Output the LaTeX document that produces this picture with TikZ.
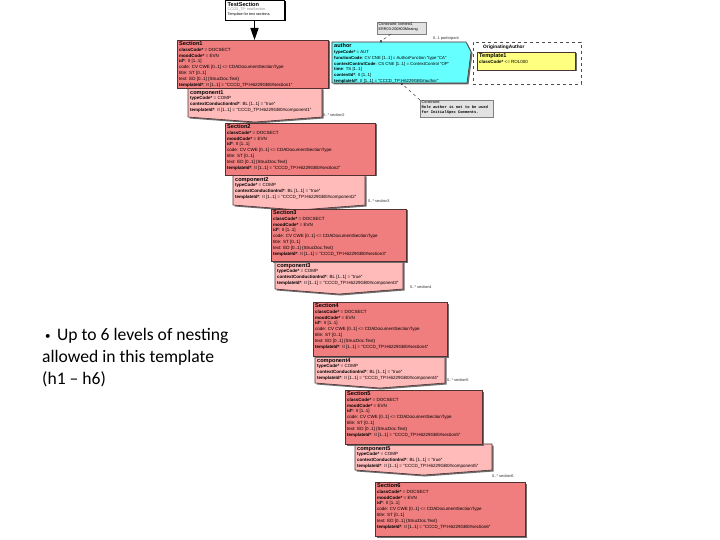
\documentclass[tikz,border=0pt]{standalone}
\usepackage{fontspec}
\setmainfont{Liberation Sans}
\newfontfamily\calib{Carlito}
\newfontfamily\monof{Liberation Mono}
\usetikzlibrary{arrows.meta,calc}
\definecolor{secred}{RGB}{240,126,126}
\definecolor{comppink}{RGB}{255,186,186}
\definecolor{authcyan}{RGB}{102,255,255}
\definecolor{tmplyellow}{RGB}{255,255,128}
\definecolor{consgray}{RGB}{226,226,226}
\definecolor{edgec}{RGB}{80,50,50}
\definecolor{shadowc}{RGB}{110,110,110}
\tikzset{
  boxbase/.style={anchor=north west, inner sep=0pt, outer sep=0pt},
  body/.style={anchor=north west, align=left, inner sep=0pt, font=\fontsize{4.5}{5.8}\selectfont},
  lbl/.style={anchor=west, inner sep=0pt, font=\fontsize{3.9}{4.5}\selectfont, text=black!80},
  boxline/.style={draw=edgec, line width=0.6pt},
  consline/.style={dashed, draw=black!75, line width=0.5pt, -{Circle[length=2.4pt]}}
}
\newcommand{\secttext}[1]{{\fontsize{5.6}{6}\selectfont\textbf{Section#1}}\\
\textbf{classCode*} = DOCSECT\\
\textbf{moodCode*} = EVN\\
\textbf{id*}: II [1..1]\\
code: CV CWE [0..1] <= CDADocumentSectionType\\
title: ST [0..1]\\
text: ED [0..1] \{StrucDoc.Text\}\\
\textbf{templateId*}: II [1..1] = "CCCD\_TP:H6229GB0\#section#1"}
\newcommand{\comptext}[1]{{\fontsize{5.6}{6}\selectfont\textbf{component#1}}\\
\textbf{typeCode*} = COMP\\
\textbf{contextConductionInd*}: BL [1..1] = "true"\\
\textbf{templateId*}: II [1..1] = "CCCD\_TP:H6229GB0\#component#1"}
% name, x, y, w, h, number
\newcommand{\mksection}[6]{%
  \fill[shadowc] (#2+1.5,#3+1.5) rectangle ++(#4,#5);
  \node[boxbase, fill=secred, boxline, minimum width=#4pt, minimum height=#5pt] (#1) at (#2,#3) {};
  \node[body] (#1t) at (#2+2,#3+1.3) {\secttext{#6}};
}
\newcommand{\mkcomp}[6]{%
  \node[boxbase, minimum width=#4pt, minimum height=#5pt] (#1) at (#2,#3) {};
  \fill[shadowc] ($(#1.north west)+(1.5,1.5)$) -- ($(#1.north east)+(1.5,1.5)$) -- ($(#1.south east)+(1.5,1.5)$) -- ($(#1.south)+(1.5,6.5)$) -- ($(#1.south west)+(1.5,1.5)$) -- cycle;
  \filldraw[fill=comppink, boxline] (#1.north west) -- (#1.north east) -- (#1.south east) -- ($(#1.south)+(0,5)$) -- (#1.south west) -- cycle;
  \node[body] (#1t) at (#2+2,#3+2) {\comptext{#6}};
}
\begin{document}
\begin{tikzpicture}[x=1pt,y=-1pt]
\useasboundingbox (0,0) rectangle (720,540);
\fill[white] (0,0) rectangle (720,540);

% TestSection
\fill[black] (226.5,1.5) rectangle (285.5,21.5);
\node[boxbase, fill=white, draw=black, line width=0.9pt, minimum width=59pt, minimum height=20pt] (ts) at (225,0.5) {};
\node[body, font=\fontsize{3.7}{4.6}\selectfont] (tst) at (227.5,2) {{\fontsize{5.6}{6}\selectfont\textbf{TestSection}}\\{\color{black!45}CCCD\_TP: testSection}\\Template for test sections};

% components (drawn before sections)
\mkcomp{c1}{188}{88}{134}{29}{1}
\mkcomp{c2}{233}{175}{132}{30}{2}
\mkcomp{c3}{275}{261}{128}{28}{3}
\mkcomp{c4}{315}{356}{130}{27}{4}
\mkcomp{c5}{355}{444}{137}{26}{5}

% sections
\mksection{s1}{177}{40}{151}{48}{1}
\mksection{s2}{225}{123}{150}{52}{2}
\mksection{s3}{271}{209}{135}{52}{3}
\mksection{s4}{313}{302}{134}{54}{4}
\mksection{s5}{345}{390}{137}{54}{5}
\mksection{s6}{375}{482}{150}{54}{6}

% arrow TestSection -> Section1
\draw[line width=1.6pt, -{Triangle[width=8pt,length=12pt]}] (ts.south) -- (ts.south |- s1.north);

% association labels
\node[lbl] (l2) at (323,115) {0..* section2};
\node[lbl] (l3) at (368,201) {0..* section3};
\node[lbl] (l4) at (410,287) {0..* section4};
\node[lbl] (l5) at (447,380) {0..* section5};
\node[lbl] (l6) at (492,476) {0..* section6};

% author
\node[boxbase, minimum width=134pt, minimum height=41pt] (au) at (332,42) {};
\fill[shadowc] ($(au.north west)+(1.5,1.5)$) -- ($(au.north east)+(1.5,1.5)$) -- ($(au.north east)+(6.5,11.5)$) -- ($(au.south east)+(2.5,1.5)$) -- ($(au.south west)+(1.5,1.5)$) -- cycle;
\filldraw[fill=authcyan, boxline] (au.north west) -- (au.north east) -- ($(au.north east)+(5,10)$) -- ($(au.south east)+(1,0)$) -- (au.south west) -- cycle;
\node[body, font=\fontsize{4.3}{5.8}\selectfont] (aut) at (334,43.5) {{\fontsize{5.6}{6}\selectfont\textbf{author}}\\
\textbf{typeCode*} = AUT\\
\textbf{functionCode}: CV CNE [1..1] = AuthorFunction "type "CA"\\
\textbf{contextControlCode}: CS CNE [1..1] = ContextControl "OP"\\
\textbf{time}: TS [1..1]\\
\textbf{contentId*}: II [1..1]\\
\textbf{templateId*}: II [1..1] = "CCCD\_TP:H6229GB0\#author"};
\node[lbl] (lp) at (433,38) {0..1 participant};

% OriginatingAuthor choice box
\node[boxbase, fill=white, draw=black!70, dashed, line width=0.5pt, minimum width=108pt, minimum height=42pt] (oa) at (473,42) {};
\node[anchor=north west, inner sep=0pt, font=\fontsize{4.8}{5.5}\selectfont\bfseries] (oat) at (483,44.5) {OriginatingAuthor};
\fill[shadowc] (478.5,53.5) rectangle ++(98,18);
\node[boxbase, fill=tmplyellow, boxline, minimum width=98pt, minimum height=18pt] (tp) at (477,52) {};
\node[body] (tpt) at (479,53.5) {{\fontsize{5.6}{6}\selectfont\textbf{Template1}}\\\textbf{classCode*} <= ROL000};

% constraints
\node[boxbase, fill=consgray, draw=black!50, line width=0.4pt, minimum width=49pt, minimum height=12pt] (k1) at (377,22) {};
\node[body, font=\fontsize{3.8}{5}\selectfont] (k1t) at (378.5,23) {Constraint: context1\\ERR03-200803Missing};
\coordinate (autop) at (380,42);
\draw[consline] ($(k1.south west)+(14,0)$) -- (autop);

\node[boxbase, fill=consgray, draw=black!50, line width=0.4pt, minimum width=73pt, minimum height=17pt] (k2) at (420,100) {};
\node[body, font=\fontsize{3.8}{4.9}\selectfont] (k2t) at (421.5,101) {Constraint:\\{\monof\bfseries Role author is not to be used}\\{\monof\bfseries for InitialSpec Comments.}};
\coordinate (aubot) at (401,83);
\draw[consline] (k2.north west) -- (aubot);

% bullet text
\node[anchor=north west, align=left, inner sep=0pt, font=\calib\fontsize{17.6}{21.8}\selectfont] (bul) at (42,328.5) {\makebox[15pt][l]{\hspace{3pt}{\fontsize{11}{11}\selectfont\raisebox{1.5pt}{•}}}Up to 6 levels of nesting\\allowed in this template\\(h1 – h6)};
\end{tikzpicture}
\end{document}
